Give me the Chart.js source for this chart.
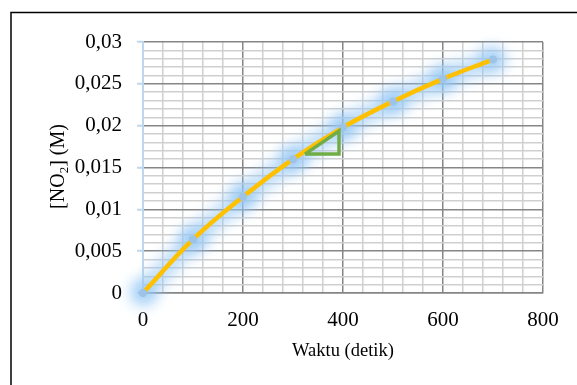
<!DOCTYPE html>
<html>
<head>
<meta charset="utf-8">
<script src="https://cdn.jsdelivr.net/npm/chart.js@4.4.1/dist/chart.umd.min.js"></script>
<style>
  html, body { margin: 0; padding: 0; background: #fff; }
  #wrap { position: relative; width: 577px; height: 385px; overflow: hidden; }
</style>
</head>
<body>
<div id="wrap"><canvas id="c" width="577" height="385"></canvas></div>
<script>
// ---- data ----
const times = [0, 100, 200, 300, 400, 500, 600, 700];
const concentrations = [0, 0.0064, 0.0115, 0.0160, 0.0198, 0.0229, 0.0256, 0.0279];
const triangleX = [324, 392, 392, 324];
const triangleY = [0.0166, 0.0166, 0.01935, 0.0166];
const xMajorTicks = [0, 200, 400, 600, 800];
const yMajorTicks = [0, 0.005, 0.01, 0.015, 0.02, 0.025, 0.03];
const xTitle = 'Waktu (detik)';
const yTitleParts = ['[NO', '2', '] (M)'];

const FONT = '"Liberation Serif", "Times New Roman", serif';
const MAJOR = '#868686';
const MINOR = '#CFCFCF';
const AXISBLUE = '#BDD7EE';

const pts = times.map((t, i) => ({ x: t, y: concentrations[i] }));
const tri = triangleX.map((t, i) => ({ x: t, y: triangleY[i] }));

const isMajorX = v => xMajorTicks.some(m => Math.abs(m - v) < 1e-6);
const isMajorY = v => yMajorTicks.some(m => Math.abs(m - v) < 1e-9);
const fmtY = v => String(Math.round(v * 1000) / 1000).replace('.', ',');

const glowPlugin = {
  id: 'glow',
  beforeDatasetDraw(chart, args) {
    const ds = chart.data.datasets[args.index];
    if (ds._glow) { chart.ctx.save(); chart.ctx.filter = 'blur(7px)'; }
  },
  afterDatasetDraw(chart, args) {
    const ds = chart.data.datasets[args.index];
    if (ds._glow) { chart.ctx.restore(); }
  }
};

const decorPlugin = {
  id: 'decor',
  beforeDraw(chart) {
    const ctx = chart.ctx;
    ctx.save();
    ctx.strokeStyle = '#000';
    ctx.lineWidth = 1.5;
    ctx.beginPath();
    ctx.moveTo(11, 400);
    ctx.lineTo(11, 12.5);
    ctx.lineTo(600, 12.5);
    ctx.stroke();
    ctx.restore();
  },
  afterDraw(chart) {
    const ctx = chart.ctx;
    const area = chart.chartArea;
    ctx.save();
    ctx.fillStyle = '#000';
    // x title
    ctx.font = '18.5px ' + FONT;
    ctx.textAlign = 'center';
    ctx.textBaseline = 'middle';
    ctx.fillText(xTitle, (area.left + area.right) / 2, 351);
    // y title with subscript
    ctx.translate(57, 166.5);
    ctx.rotate(-Math.PI / 2);
    const big = '20px ' + FONT, small = '13px ' + FONT;
    ctx.font = big; const w1 = ctx.measureText(yTitleParts[0]).width;
    ctx.font = small; const w2 = ctx.measureText(yTitleParts[1]).width;
    ctx.font = big; const w3 = ctx.measureText(yTitleParts[2]).width;
    let x = -(w1 + w2 + w3) / 2;
    ctx.textAlign = 'left';
    ctx.textBaseline = 'alphabetic';
    const base = 7;
    ctx.font = big; ctx.fillText(yTitleParts[0], x, base); x += w1;
    ctx.font = small; ctx.fillText(yTitleParts[1], x, base + 4); x += w2;
    ctx.font = big; ctx.fillText(yTitleParts[2], x, base);
    ctx.restore();
  }
};

new Chart(document.getElementById('c'), {
  type: 'line',
  data: {
    datasets: [
      {
        _glow: true,
        data: pts,
        order: 3,
        borderColor: 'rgba(150,200,245,0.6)',
        borderWidth: 20,
        tension: 0.4,
        pointRadius: 13,
        pointBackgroundColor: 'rgba(150,200,245,0.8)',
        pointBorderWidth: 0,
        clip: false
      },
      {
        data: pts,
        order: 2,
        borderColor: '#FFC000',
        borderWidth: 4.5,
        tension: 0.4,
        pointRadius: 4,
        pointBackgroundColor: '#9DC3E6',
        pointBorderWidth: 0,
        clip: false
      },
      {
        data: tri,
        order: 1,
        borderColor: '#70AD47',
        borderWidth: 3.5,
        tension: 0,
        pointRadius: 0,
        borderJoinStyle: 'miter',
        clip: false
      }
    ]
  },
  options: {
    responsive: false,
    animation: false,
    devicePixelRatio: 1,
    layout: { padding: { top: 42, right: 34, bottom: 0, left: 0 } },
    plugins: { legend: { display: false }, tooltip: { enabled: false } },
    scales: {
      x: {
        type: 'linear',
        min: 0, max: 800,
        afterFit(s) { s.height = 92; },
        border: { color: MAJOR, width: 1.5 },
        grid: {
          drawTicks: false,
          color: c => isMajorX(c.tick.value) ? MAJOR : MINOR,
          lineWidth: 1.5
        },
        ticks: {
          stepSize: 40,
          autoSkip: false,
          maxRotation: 0,
          padding: 15,
          color: '#000',
          font: { family: FONT, size: 21 },
          callback: v => isMajorX(v) ? String(v) : ''
        }
      },
      y: {
        type: 'linear',
        min: 0, max: 0.03,
        afterFit(s) { s.width = 143; },
        border: { color: AXISBLUE, width: 2 },
        grid: {
          drawTicks: true,
          tickLength: 6,
          tickWidth: 2,
          tickColor: c => isMajorY(c.tick.value) ? AXISBLUE : 'rgba(0,0,0,0)',
          color: c => isMajorY(c.tick.value) ? MAJOR : MINOR,
          lineWidth: 1.5
        },
        ticks: {
          stepSize: 0.001,
          autoSkip: false,
          padding: 15,
          color: '#000',
          font: { family: FONT, size: 21 },
          callback: v => isMajorY(v) ? fmtY(v) : ''
        }
      }
    }
  },
  plugins: [glowPlugin, decorPlugin]
});
</script>
</body>
</html>
